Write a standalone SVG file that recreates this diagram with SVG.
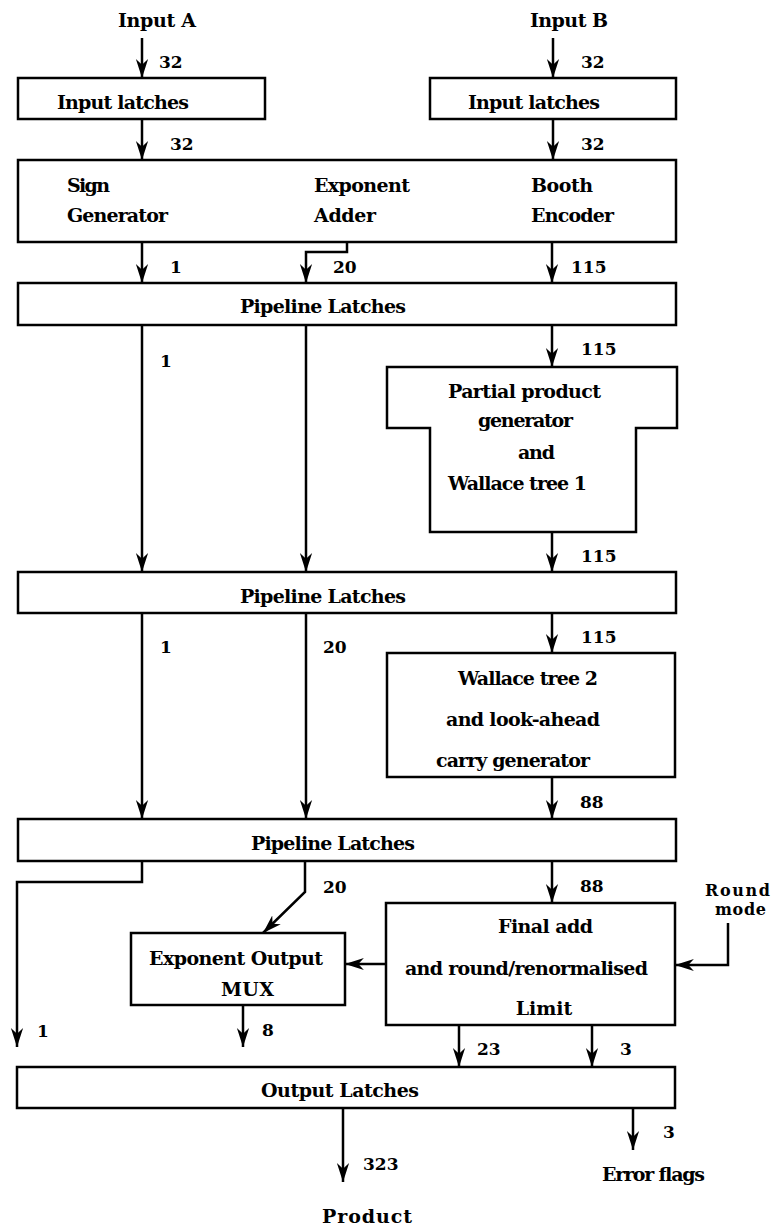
<svg xmlns="http://www.w3.org/2000/svg" width="772" height="1226" viewBox="0 0 772 1226">
<defs>
<style>
.box{fill:none;stroke:#000;stroke-width:2.5;stroke-linejoin:miter}
.ln{fill:none;stroke:#000;stroke-width:2.5}
.ar{fill:none;stroke:#000;stroke-width:2.5;marker-end:url(#ah)}
text{font-family:"DejaVu Serif","Liberation Serif",serif;font-weight:bold;font-size:19px;fill:#000}
.n{font-size:17px}
.s{font-size:16px}
</style>
<marker id="ah" markerUnits="userSpaceOnUse" markerWidth="20" markerHeight="14" viewBox="-17 -6 18 12" refX="0" refY="0" orient="auto">
<path d="M0,0 L-17,-5.5 L-12,0 L-17,5.5 Z" fill="#000"/>
</marker>
</defs>
<rect width="772" height="1226" fill="#fff"/>

<g id="labels-io">
<text x="118" y="27" textLength="78">Input A</text>
<text x="530" y="27" textLength="78">Input B</text>
<text x="322" y="1223" textLength="90">Product</text>
<text x="602" y="1181" textLength="103">Error flags</text>
<text class="s" x="705" y="896" textLength="65">Round</text>
<text class="s" x="715" y="915" textLength="51">mode</text>
</g>

<g id="input-latches-a">
<rect class="box" x="18" y="78" width="247" height="41"/>
<text x="57" y="109" textLength="132">Input latches</text>
</g>
<g id="input-latches-b">
<rect class="box" x="430" y="78" width="246" height="41"/>
<text x="468" y="109" textLength="132">Input latches</text>
</g>

<g id="encoder-block">
<rect class="box" x="18" y="160" width="658" height="82"/>
<text x="67" y="192" textLength="43">Sign</text>
<text x="67" y="222" textLength="101">Generator</text>
<text x="314" y="192" textLength="96">Exponent</text>
<text x="314" y="222" textLength="62">Adder</text>
<text x="531" y="192" textLength="62">Booth</text>
<text x="531" y="222" textLength="83">Encoder</text>
</g>

<g id="pipeline-1">
<rect class="box" x="18" y="283" width="658" height="42"/>
<text x="240" y="313" textLength="166">Pipeline Latches</text>
</g>

<g id="partial-product">
<path class="box" d="M387,367 H677 V428 H636 V532 H430 V428 H387 Z"/>
<text x="448" y="398" textLength="153">Partial product</text>
<text x="478" y="427" textLength="95">generator</text>
<text x="518" y="459" textLength="37">and</text>
<text x="448" y="490" textLength="139">Wallace tree 1</text>
</g>

<g id="pipeline-2">
<rect class="box" x="18" y="572" width="658" height="41"/>
<text x="240" y="603" textLength="166">Pipeline Latches</text>
</g>

<g id="wallace-2">
<rect class="box" x="387" y="653" width="288" height="124"/>
<text x="458" y="685" textLength="140">Wallace tree 2</text>
<text x="446" y="726" textLength="154">and look-ahead</text>
<text x="436" y="767" textLength="154">carry generator</text>
</g>

<g id="pipeline-3">
<rect class="box" x="18" y="819" width="658" height="42"/>
<text x="251" y="850" textLength="164">Pipeline Latches</text>
</g>

<g id="final-add">
<rect class="box" x="386" y="903" width="289" height="122"/>
<text x="498" y="933" textLength="95">Final add</text>
<text x="405" y="975" textLength="243">and round/renormalised</text>
<text x="544" y="1015" text-anchor="middle">Limit</text>
</g>

<g id="exponent-mux">
<rect class="box" x="131" y="933" width="214" height="72"/>
<text x="149" y="965" textLength="174">Exponent Output</text>
<text x="221" y="996" textLength="53">MUX</text>
</g>

<g id="output-latches">
<rect class="box" x="17" y="1067" width="658" height="41"/>
<text x="261" y="1097" textLength="158">Output Latches</text>
</g>

<g id="connectors">
<path class="ar" d="M142,38 V78"/>
<path class="ar" d="M553,38 V78"/>
<path class="ar" d="M142,119 V160"/>
<path class="ar" d="M553,119 V160"/>
<path class="ar" d="M142,242 V283"/>
<path class="ar" d="M347,242 V252 H306 V283"/>
<path class="ar" d="M552,242 V283"/>
<path class="ar" d="M142,325 V572"/>
<path class="ar" d="M306,325 V572"/>
<path class="ar" d="M552,325 V367"/>
<path class="ar" d="M552,532 V572"/>
<path class="ar" d="M142,613 V819"/>
<path class="ar" d="M306,613 V819"/>
<path class="ar" d="M552,613 V653"/>
<path class="ar" d="M552,777 V819"/>
<path class="ar" d="M142,861 V882 H17 V1047"/>
<path class="ar" d="M305,861 V892 L263,933"/>
<path class="ar" d="M552,861 V903"/>
<path class="ar" d="M728,923 V965 H675"/>
<path class="ar" d="M386,964 H345"/>
<path class="ar" d="M243,1005 V1047"/>
<path class="ar" d="M459,1025 V1067"/>
<path class="ar" d="M592,1025 V1067"/>
<path class="ar" d="M343,1108 V1182"/>
<path class="ar" d="M633,1108 V1150"/>
<g id="connector-labels">
<text class="n" x="159" y="68">32</text>
<text class="n" x="581" y="68">32</text>
<text class="n" x="170" y="150">32</text>
<text class="n" x="581" y="150">32</text>
<text class="n" x="170" y="273">1</text>
<text class="n" x="333" y="273">20</text>
<text class="n" x="571" y="273">115</text>
<text class="n" x="160" y="367">1</text>
<text class="n" x="581" y="355">115</text>
<text class="n" x="581" y="562">115</text>
<text class="n" x="160" y="653">1</text>
<text class="n" x="323" y="653">20</text>
<text class="n" x="581" y="643">115</text>
<text class="n" x="580" y="808">88</text>
<text class="n" x="323" y="893">20</text>
<text class="n" x="580" y="892">88</text>
<text class="n" x="37" y="1037">1</text>
<text class="n" x="262" y="1036">8</text>
<text class="n" x="477" y="1055">23</text>
<text class="n" x="620" y="1055">3</text>
<text class="n" x="363" y="1170">323</text>
<text class="n" x="663" y="1138">3</text>
</g>
</g>
</svg>
